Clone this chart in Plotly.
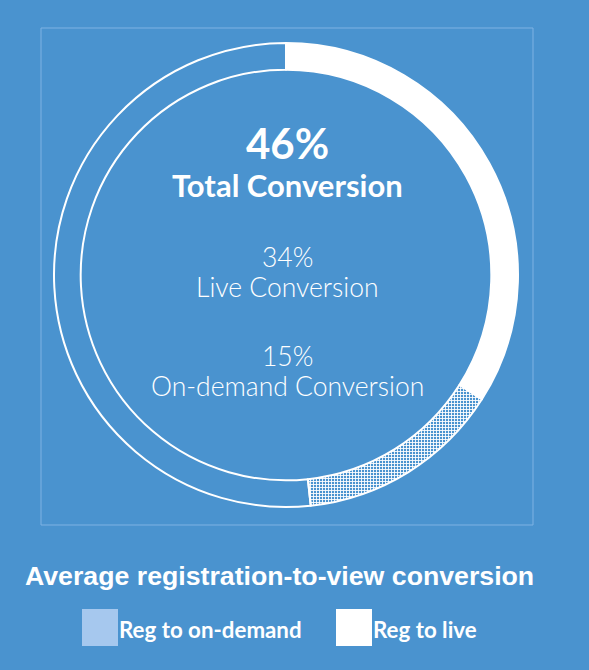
import plotly.graph_objects as go

segments = ["Reg to live", "Reg to on-demand", "Not converted"]
values = [34, 14.3, 51.7]
total_pct = "46%"
live_pct = "34%"
ondemand_pct = "15%"
title_text = "Average registration-to-view conversion"
legend_labels = ["Reg to on-demand", "Reg to live"]

W, H = 589, 670
BG = "#4a93cf"

def px_x(x):
    return x / W

def px_y(y):
    return 1 - y / H

fig = go.Figure()
fig.add_trace(go.Pie(
    labels=segments, values=values, hole=0.885, sort=False,
    direction="clockwise", rotation=0, textinfo="none", hoverinfo="label+percent",
    showlegend=False,
    domain=dict(x=[px_x(54), px_x(518)], y=[px_y(507), px_y(43)]),
    marker=dict(
        colors=["#ffffff", BG, "rgba(0,0,0,0)"],
        line=dict(color="#ffffff", width=2),
        pattern=dict(shape=["", "+", ""], fgcolor="#ffffff", bgcolor=BG, size=3, solidity=0.5),
    ),
))

# frame around the donut
fig.add_shape(type="rect", xref="paper", yref="paper",
              x0=px_x(41), x1=px_x(533), y0=px_y(525), y1=px_y(28),
              line=dict(color="#7fb2e3", width=1))

center_texts = [
    (total_pct, 143, 42, 700),
    ("Total Conversion", 185, 31, 700),
    (live_pct, 257, 26.5, 300),
    ("Live Conversion", 287, 26.5, 300),
    (ondemand_pct, 356, 26.5, 300),
    ("On-demand Conversion", 386, 26.5, 300),
]
for txt, y, size, weight in center_texts:
    fig.add_annotation(x=px_x(287.5), y=px_y(y), xref="paper", yref="paper", text=txt,
                       showarrow=False, xanchor="center", yanchor="middle",
                       font=dict(family="Lato", size=size, color="white", weight=weight))

fig.add_annotation(x=px_x(23), y=px_y(576), xref="paper", yref="paper", text=title_text,
                   showarrow=False, xanchor="left", yanchor="middle",
                   font=dict(family="Liberation Sans", size=26.7, color="white", weight=700))

# legend
legend_items = [(legend_labels[0], "#a6c8ee", 82), (legend_labels[1], "#ffffff", 336)]
for label, color, x in legend_items:
    fig.add_shape(type="rect", xref="paper", yref="paper",
                  x0=px_x(x), x1=px_x(x + 36), y0=px_y(646), y1=px_y(609),
                  fillcolor=color, line=dict(width=0))
    fig.add_annotation(x=px_x(x + 35), y=px_y(629), xref="paper", yref="paper", text=label,
                       showarrow=False, xanchor="left", yanchor="middle",
                       font=dict(family="Lato", size=22.3, color="white", weight=700))

fig.update_layout(width=W, height=H, margin=dict(l=0, r=0, t=0, b=0),
                  paper_bgcolor=BG, plot_bgcolor=BG)
fig.write_html("out.html", config={"displayModeBar": False},
               post_script="document.body.style.margin='0';")
